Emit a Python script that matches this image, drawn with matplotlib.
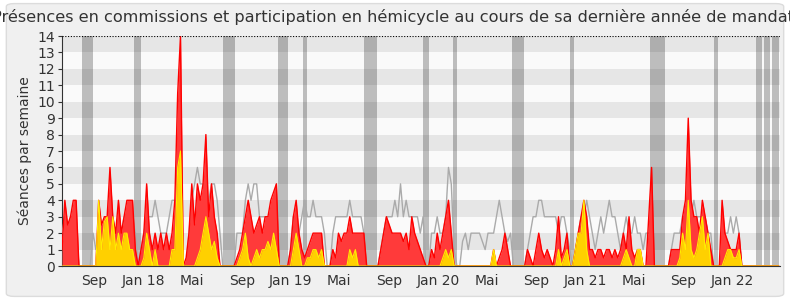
import matplotlib.pyplot as plt
import pandas as pd
from matplotlib.patches import FancyBboxPatch

# weekly data, starting mid-June 2017
start = '2017-06-12'

# présences en commission (red area)
red = [1, 4, 2.5, 3, 4, 4, 0, 0, 0, 0, 0, 0, 0, 4, 2.5, 3, 3, 6, 3, 2,
       4, 2, 3, 4, 4, 4, 1, 0, 1, 2, 5, 2, 1, 2, 1, 2, 1, 2, 1, 2,
       4, 10.5, 14, 0, 0.5, 2, 5, 2.5, 5, 4, 5, 8, 3, 5, 3, 2, 0, 0, 0, 0,
       0, 0, 0.5, 1, 2, 3, 4, 3, 2, 2.5, 3, 2, 3, 3, 4, 4.5, 5, 0, 0, 0,
       0, 1, 3, 4, 2, 1, 0.5, 1, 1.5, 2, 2, 2, 2, 0, 0, 0, 1, 0.5, 2, 1.5,
       2, 2, 3, 2, 2, 2, 2, 2, 0, 0, 0, 0, 0, 1, 2, 3, 2.5, 2, 2, 2,
       2, 1.5, 2, 1, 3, 2, 1.5, 1, 0.5, 0, 0, 1, 0.5, 2, 1, 2, 3, 4, 2, 0,
       0, 0, 0, 0, 0, 0, 0, 0, 0, 0, 0, 0, 0, 1, 0, 0.5, 1, 2, 1, 0,
       0, 0, 0, 0, 0, 1, 0.5, 0, 1, 2, 1, 0.5, 1, 0.5, 0, 1, 3, 0.5, 1, 2,
       0, 0, 1, 2, 3, 4, 3, 1, 1, 0.5, 1, 1, 0.5, 1, 1, 0.5, 1, 0.5, 1, 2,
       1, 3, 1, 0.5, 1, 1, 0, 0, 3, 6, 0, 0, 0, 0, 0, 0, 1, 1, 1, 1,
       3, 4, 9, 4, 3, 3, 2, 4, 3, 2, 1, 0, 0, 0, 4, 2, 1.5, 1, 1, 1,
       2, 0, 0, 0, 0, 0, 0, 0, 0, 0, 0, 0, 0, 0, 0]

# interventions (yellow area)
yellow = [0, 0, 0, 0, 0, 0, 0, 0, 0, 0, 0, 0, 0, 4, 1, 2.7, 3, 1, 3, 1,
          2, 1, 2, 2, 1, 1, 0, 0, 0, 0.5, 2, 1, 0, 1, 0, 0, 0, 0, 0, 1,
          1, 6, 7, 0, 0, 0, 0, 0, 0.5, 1, 2, 3, 2, 1, 1.5, 0.5, 0, 0, 0, 0,
          0, 0, 0, 0.5, 1, 2, 0.5, 0, 0.5, 1, 0.5, 1, 1, 1.5, 1, 2, 1, 0, 0, 0,
          0, 0, 1, 2, 1, 0, 0, 0.5, 0.5, 1, 1, 0.5, 1, 0, 0, 0, 0, 0, 0, 0,
          0, 0, 1, 0.5, 1, 0, 0, 0, 0, 0, 0, 0, 0, 0, 0, 0, 0, 0, 0, 0,
          0, 0, 0, 0, 0, 0, 0, 0, 0, 0, 0, 0, 0, 0, 0, 0.5, 1, 0.5, 1, 0,
          0, 0, 0, 0, 0, 0, 0, 0, 0, 0, 0, 0, 0, 1, 0, 0, 0, 0, 0, 0,
          0, 0, 0, 0, 0, 0, 0, 0, 0, 0, 0, 0, 0, 0, 0, 0, 1, 0, 0.5, 1,
          0, 0, 1, 2, 2, 4, 1, 0, 0, 0, 0, 0, 0, 0, 0, 0, 0, 0, 0, 0.5,
          1, 0.5, 0, 0, 1, 1, 0, 0, 0, 0, 0, 0, 0, 0, 0, 0, 0, 0, 0, 0.5,
          2, 1, 4, 1, 0.5, 1, 2, 3, 1, 2, 0, 0, 0, 0, 0, 0.5, 1, 1, 0.5, 0.5,
          1, 0, 0, 0, 0, 0, 0, 0, 0, 0, 0, 0, 0, 0, 0]

# séances en hémicycle (grey line)
grey = [2, 3, 2, 3, 3, 2, 0, 0, 0, 0, 0, 2, 1, 2, 2, 2, 3, 3, 3, 2,
        3, 2, 3, 3, 3, 3, 2, 0, 1, 2, 3, 3, 3, 4, 3, 2, 2, 2, 3, 4,
        4, 3, 3, 0, 0, 2, 4, 5, 6, 5, 5, 4, 4, 5, 5, 4, 2, 0, 0, 0,
        0, 0, 2, 2, 2, 4, 5, 4, 5, 5, 3, 3, 3, 3, 3, 4, 5, 0, 0, 0,
        0, 1, 3, 3, 2, 3, 4, 3, 3, 4, 3, 3, 3, 2, 0, 0, 2, 3, 3, 3,
        3, 3, 4, 3, 3, 3, 3, 2, 0, 0, 0, 0, 0, 1, 2, 3, 3, 3, 4, 3,
        5, 3, 4, 3, 3, 3, 3, 2, 3, 0, 0, 2, 2, 3, 2, 2, 3, 6, 5, 1,
        0, 0, 1.5, 2, 1, 2, 2, 2, 2, 1.5, 1, 2, 2, 2, 3, 4, 3, 2, 1.5, 2,
        0, 0, 0, 0, 0, 1, 2, 3, 3, 4, 4, 3, 3, 3, 3, 3, 2, 3, 3, 2,
        1, 0, 1, 2, 3, 3, 4, 3, 2, 1, 2, 3, 2, 3, 4, 3, 3, 2, 1, 2,
        3, 2, 2, 3, 2, 2, 1, 2, 2, 2, 0, 0, 0, 0, 0, 0, 1, 2, 2, 2,
        3, 3, 4, 3, 4, 3, 3, 3, 3, 2, 2, 0, 0, 0, 1, 2, 2, 3, 2, 3,
        2, 0, 0, 0, 0, 0, 0, 0, 0, 0, 0, 0, 0, 0, 0]

# vacances parlementaires
vacations = [('2017-07-31', '2017-08-27'), ('2017-12-07', '2017-12-25'),
             ('2018-07-16', '2018-08-15'), ('2018-11-30', '2018-12-24'),
             ('2019-01-31', '2019-02-10'), ('2019-07-01', '2019-08-02'),
             ('2019-11-24', '2019-12-09'), ('2020-02-07', '2020-02-17'),
             ('2020-07-02', '2020-08-01'), ('2020-11-23', '2020-12-03'),
             ('2021-06-10', '2021-07-17'), ('2021-11-15', '2021-11-25'),
             ('2022-02-27', '2022-03-14'), ('2022-03-19', '2022-04-05'),
             ('2022-04-10', '2022-04-27')]

tick_dates = ['2017-09-01', '2018-01-01', '2018-05-01', '2018-09-01', '2019-01-01',
              '2019-05-01', '2019-09-01', '2020-01-01', '2020-05-01', '2020-09-01',
              '2021-01-01', '2021-05-01', '2021-09-01', '2022-01-01']
tick_labels = ['Sep', 'Jan 18', 'Mai', 'Sep', 'Jan 19', 'Mai', 'Sep', 'Jan 20',
               'Mai', 'Sep', 'Jan 21', 'Mai', 'Sep', 'Jan 22']

weeks = pd.date_range(start, periods=len(red), freq='7D')

fig = plt.figure(figsize=(7.9, 3.0), dpi=100)
fig.patch.set_facecolor('white')
fig.patches.append(FancyBboxPatch((0.008, 0.012), 0.984, 0.976,
                                  boxstyle='round,pad=0,rounding_size=0.01',
                                  transform=fig.transFigure, facecolor='#f0f0f0',
                                  edgecolor='#dcdcdc', linewidth=1, zorder=-10))
ax = fig.add_axes([0.0785, 0.1133, 0.9085, 0.7667])
ax.set_facecolor('#fafafa')

for a, b in vacations:
    ax.axvspan(pd.Timestamp(a), pd.Timestamp(b), color='#bdbdbd', lw=0, zorder=1)
for k in range(1, 14, 2):
    ax.axhspan(k, k + 1, color='black', alpha=0.08, lw=0, zorder=2)

ax.plot(weeks, grey, color='#aaaaaa', lw=1, zorder=3)
ax.fill_between(weeks, red, color='#ff3a3a', lw=0, zorder=4)
ax.plot(weeks, red, color='#ff0000', lw=1, zorder=5)
ax.fill_between(weeks, yellow, color='#ffd000', lw=0, zorder=6)
ax.plot(weeks, yellow, color='#ffee00', lw=0.8, zorder=7)

ax.set_xlim(pd.Timestamp(start), pd.Timestamp(start) + pd.Timedelta(days=1781))
ax.set_ylim(0, 14)
ax.axhline(14, color='black', lw=0.8, ls=(0, (1, 1.5)), zorder=8)

ax.set_yticks(range(15))
ax.tick_params(axis='y', labelsize=10, colors='#333333', length=3, pad=2)
ax.set_xticks([pd.Timestamp(d) for d in tick_dates])
ax.set_xticklabels(tick_labels)
ax.tick_params(axis='x', labelsize=10, colors='#333333', length=0, pad=6)

for s in ['top', 'right']:
    ax.spines[s].set_visible(False)
ax.spines['left'].set_color('#333333')
ax.spines['bottom'].set_color('#333333')
ax.spines['bottom'].set_zorder(9)

ax.set_ylabel('Séances par semaine', fontsize=10, color='#333333', labelpad=4)
fig.text(0.497, 0.943, 'Présences en commissions et participation en hémicycle au cours de sa dernière année de mandat',
         ha='center', va='center', fontsize=11.6, color='#333333')

fig.savefig('out.png', dpi=100)
